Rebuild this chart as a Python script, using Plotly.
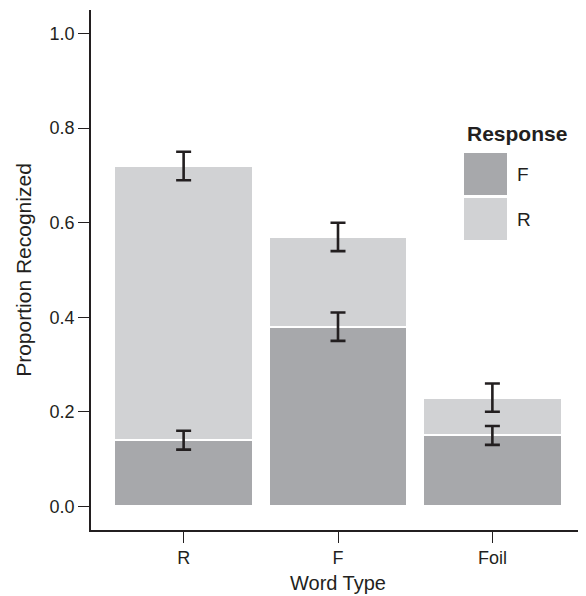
import plotly.graph_objects as go

# ---- data ----
word_types = ["R", "F", "Foil"]
resp_F = [0.14, 0.38, 0.15]
resp_R = [0.58, 0.19, 0.08]
err_F = [0.02, 0.03, 0.02]
err_R = [0.03, 0.03, 0.03]
y_ticks = [0.0, 0.2, 0.4, 0.6, 0.8, 1.0]
legend_title = "Response"
legend_labels = ["F", "R"]

# ---- style ----
COL_F = "#a7a8ab"
COL_R = "#d1d2d4"
INK = "#231f20"
FONT = "Liberation Sans, Arial, Helvetica, sans-serif"

OFF = 8  # browser body margin
W, H = 586 - OFF, 596 - OFF
L, R_, T, B = 91 - OFF, 1, 10 - OFF, 596 - 530

fig = go.Figure()
fig.add_trace(go.Bar(x=word_types, y=resp_F, name="F", marker=dict(color=COL_F, line=dict(color="white", width=2)), width=0.9))
fig.add_trace(go.Bar(x=word_types, y=resp_R, name="R", marker=dict(color=COL_R, line=dict(color="white", width=2)), width=0.9))

cum_R = [f + r for f, r in zip(resp_F, resp_R)]
for ys, es in ((resp_F, err_F), (cum_R, err_R)):
    fig.add_trace(go.Scatter(
        x=word_types, y=ys, mode="markers",
        marker=dict(size=1, opacity=0),
        error_y=dict(type="data", array=es, symmetric=True, color=INK, thickness=2.6, width=7.5),
        showlegend=False, hoverinfo="skip"))

# manual legend (page pixel -> paper)
pw, ph = W - L - R_, H - T - B
def px(x):
    return (x - OFF - L) / pw
def py(y):
    return (H - B - (y - OFF)) / ph

shapes = []
annotations = [dict(text="<b>" + legend_title + "</b>", x=px(465), y=py(133), xref="paper", yref="paper",
                    xanchor="left", yanchor="middle", showarrow=False,
                    font=dict(family=FONT, size=21, color=INK))]
key_cols = [COL_F, COL_R]
key_tops = [153, 198]
for lab, col, top in zip(legend_labels, key_cols, key_tops):
    shapes.append(dict(type="rect", xref="paper", yref="paper", x0=px(464), x1=px(507), y0=py(top + 42), y1=py(top),
                       fillcolor=col, line=dict(width=0), layer="above"))
    annotations.append(dict(text=lab, x=px(515), y=py(top + 21), xref="paper", yref="paper",
                            xanchor="left", yanchor="middle", showarrow=False,
                            font=dict(family=FONT, size=19, color=INK)))

fig.update_layout(
    width=W, height=H,
    margin=dict(l=L, r=R_, t=T, b=B, pad=0, autoexpand=False),
    barmode="stack", bargap=0.1,
    showlegend=False,
    plot_bgcolor="white", paper_bgcolor="white",
    font=dict(family=FONT, color=INK),
    shapes=shapes, annotations=annotations,
    xaxis=dict(range=[-0.6, 2.6], showline=True, linecolor=INK, linewidth=1.5,
               ticks="outside", ticklen=11, tickwidth=1.2, tickcolor=INK,
               showgrid=False, zeroline=False, automargin=False,
               tickfont=dict(family=FONT, size=18, color=INK),
               title=dict(text="Word Type", font=dict(family=FONT, size=20, color=INK), standoff=9)),
    yaxis=dict(range=[-0.05, 1.05], showline=True, linecolor=INK, linewidth=1.5,
               tickvals=y_ticks, tickformat=".1f",
               ticks="outside", ticklen=11, tickwidth=1.2, tickcolor=INK,
               showgrid=False, zeroline=False, automargin=False,
               tickfont=dict(family=FONT, size=18, color=INK),
               title=dict(text="Proportion Recognized", font=dict(family=FONT, size=21, color=INK), standoff=12)),
)

fig.write_html("out.html")
